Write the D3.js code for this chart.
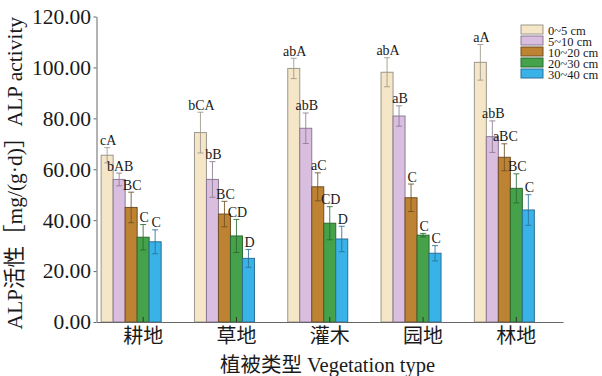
<!DOCTYPE html>
<html>
<head>
<meta charset="utf-8">
<script src="https://cdn.jsdelivr.net/npm/d3@7"></script>
<style>
  html, body { margin: 0; padding: 0; background: #fff; }
  svg { display: block; }
  text { font-family: "Liberation Serif", "Noto Sans CJK SC", serif; fill: #1a1a1a; }
</style>
</head>
<body>
<svg id="chart" width="602" height="376"></svg>
<script>
// Vegetation types (x categories) and soil depth layers (series)
const categories = ["耕地", "草地", "灌木", "园地", "林地"];
const depths = ["0~5 cm", "5~10 cm", "10~20 cm", "20~30 cm", "30~40 cm"];

// Mean ALP activity per depth layer, one value per vegetation type
const depth0_5   = [65.5, 74.4, 99.6, 98.1, 102.0];
const depth5_10  = [56.0, 56.0, 76.1, 80.9, 72.8];
const depth10_20 = [45.0, 42.4, 53.1, 48.8, 64.7];
const depth20_30 = [33.3, 33.8, 38.8, 34.1, 52.5];
const depth30_40 = [31.5, 25.0, 32.6, 27.0, 44.0];

// Error bar half-lengths
const err0_5   = [3.0, 8.0, 4.0, 5.7, 7.0];
const err5_10  = [2.5, 7.0, 6.0, 4.0, 6.2];
const err10_20 = [6.0, 5.0, 5.5, 5.4, 5.3];
const err20_30 = [5.0, 6.5, 6.5, 0.7, 5.7];
const err30_40 = [4.7, 3.5, 5.0, 3.0, 6.0];

// Significance letters
const sig0_5   = ["cA", "bCA", "abA", "abA", "aA"];
const sig5_10  = ["bAB", "bB", "abB", "aB", "abB"];
const sig10_20 = ["BC", "BC", "aC", "C", "aBC"];
const sig20_30 = ["C", "CD", "CD", "C", "BC"];
const sig30_40 = ["C", "D", "D", "C", "C"];

// Y axis ticks
const yTicks = [0, 20, 40, 60, 80, 100, 120];

const seriesValues = [depth0_5, depth5_10, depth10_20, depth20_30, depth30_40];
const seriesErrors = [err0_5, err5_10, err10_20, err20_30, err30_40];
const seriesLetters = [sig0_5, sig5_10, sig10_20, sig20_30, sig30_40];

const fills = ["#F4E6C7", "#D9BEDF", "#BE8332", "#45A14A", "#39B3E7"];
const edges = ["#9c978c", "#8c7a92", "#6f4f26", "#2b6a31", "#2a6f98"];

const svg = d3.select("#chart");

const plotLeft = 96.5, plotRight = 563, plotTop = 16.5, plotBottom = 322;

const x = d3.scaleBand().domain(categories).range([plotLeft, plotRight]).padding(0);
// Bars in each group sit around the category tick (the 4th bar is centred on it)
const barW = 12;
const xSub = d3.scaleBand().domain(depths).range([-3.5 * barW, 1.5 * barW]).padding(0);
const y = d3.scaleLinear().domain([0, 120]).range([plotBottom, plotTop]);

const tickCenter = c => x(c) + x.bandwidth() / 2;

// Rows of data for drawing
const rows = [];
depths.forEach((d, i) => {
  categories.forEach((c, j) => {
    rows.push({
      cat: c, depth: d, di: i,
      value: seriesValues[i][j],
      err: seriesErrors[i][j],
      label: seriesLetters[i][j]
    });
  });
});

// Bars
svg.append("g").selectAll("rect")
  .data(rows)
  .join("rect")
  .attr("x", d => tickCenter(d.cat) + xSub(d.depth))
  .attr("y", d => y(d.value))
  .attr("width", xSub.bandwidth())
  .attr("height", d => y(0) - y(d.value))
  .attr("fill", d => fills[d.di])
  .attr("stroke", d => edges[d.di])
  .attr("stroke-width", 1);

// Error bars
const eb = svg.append("g").selectAll("g")
  .data(rows)
  .join("g")
  .attr("stroke", d => edges[d.di])
  .attr("stroke-opacity", 0.85)
  .attr("stroke-width", 1);
const cx = d => tickCenter(d.cat) + xSub(d.depth) + xSub.bandwidth() / 2;
eb.append("line")
  .attr("x1", cx).attr("x2", cx)
  .attr("y1", d => y(d.value + d.err)).attr("y2", d => y(d.value - d.err));
eb.append("line")
  .attr("x1", d => cx(d) - 3).attr("x2", d => cx(d) + 3)
  .attr("y1", d => y(d.value + d.err)).attr("y2", d => y(d.value + d.err));
eb.append("line")
  .attr("x1", d => cx(d) - 3).attr("x2", d => cx(d) + 3)
  .attr("y1", d => y(d.value - d.err)).attr("y2", d => y(d.value - d.err));

// Significance letters
svg.append("g").selectAll("text")
  .data(rows)
  .join("text")
  .attr("x", d => cx(d) + 1)
  .attr("y", d => y(d.value + d.err) - 2.5)
  .attr("text-anchor", "middle")
  .attr("font-size", 14)
  .text(d => d.label);

// Y axis
const yAxis = svg.append("g")
  .attr("transform", `translate(${plotLeft},0)`)
  .call(d3.axisLeft(y).tickValues(yTicks).tickFormat(d3.format(".2f"))
    .tickSizeInner(3).tickSizeOuter(0).tickPadding(2.5));
yAxis.selectAll("text").attr("font-size", 21.5).attr("fill", "#1a1a1a")
  .style("font-family", "Liberation Serif");
yAxis.selectAll("line, path").attr("stroke", "#666");

// X axis with inward ticks
const xAxis = svg.append("g")
  .attr("transform", `translate(0,${plotBottom})`)
  .call(d3.axisBottom(x).tickSizeInner(-5).tickSizeOuter(0).tickPadding(7));
xAxis.selectAll("text").attr("font-size", 20).attr("fill", "#1a1a1a")
  .style("font-family", "Noto Sans CJK SC");
xAxis.selectAll("line").attr("stroke", "#333");
xAxis.select("path").attr("stroke", "#666");

// Axis titles
svg.append("text")
  .attr("transform", `translate(22,${(plotTop + plotBottom) / 2 + 4}) rotate(-90)`)
  .attr("text-anchor", "middle")
  .attr("font-size", 21.5)
  .text("ALP活性［mg/(g·d)］ALP activity");

svg.append("text")
  .attr("x", 327.5)
  .attr("y", 372)
  .attr("text-anchor", "middle")
  .attr("font-size", 20.5)
  .text("植被类型 Vegetation type");

// Legend
const legend = svg.append("g").selectAll("g")
  .data(depths)
  .join("g")
  .attr("transform", (d, i) => `translate(521,${25 + i * 11})`);
legend.append("rect")
  .attr("width", 22).attr("height", 9)
  .attr("fill", (d, i) => fills[i])
  .attr("stroke", (d, i) => edges[i])
  .attr("stroke-width", 1);
legend.append("text")
  .attr("x", 27)
  .attr("y", 9.5)
  .attr("font-size", 12.5)
  .text(d => d);
</script>
</body>
</html>
